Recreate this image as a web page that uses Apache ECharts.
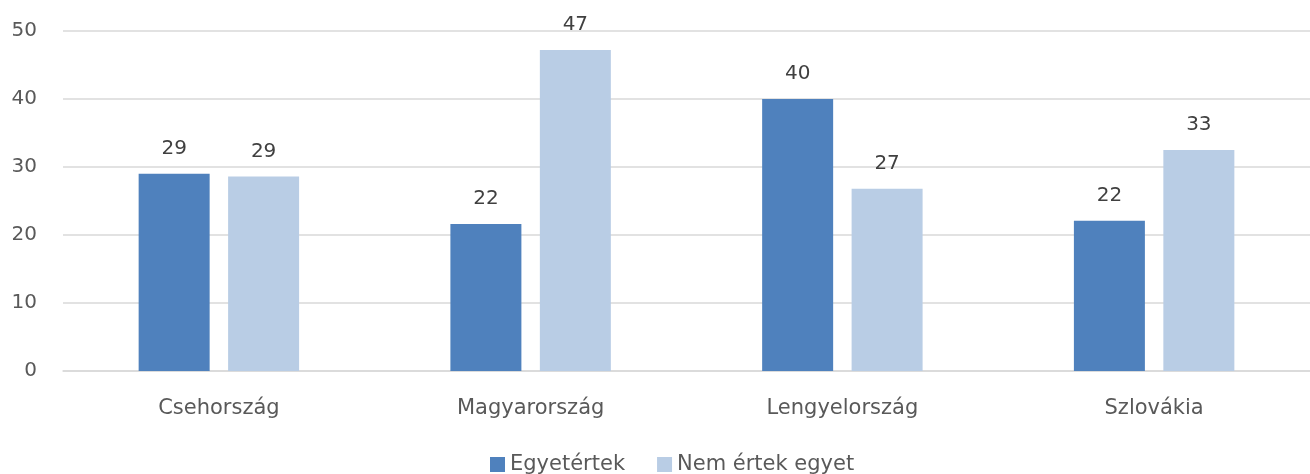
<!DOCTYPE html>
<html>
<head>
<meta charset="utf-8">
<script src="https://cdn.jsdelivr.net/npm/echarts@6/dist/echarts.min.js"></script>
<style>
  html, body { margin: 0; padding: 0; background: #fff; }
  #chart { width: 1310px; height: 474px; }
</style>
</head>
<body>
<div id="chart"></div>
<script>
// adatok
const categories = ["Csehország", "Magyarország", "Lengyelország", "Szlovákia"];
const agree = [29.0, 21.6, 40.0, 22.1];
const disagree = [28.6, 47.2, 26.8, 32.5];
const seriesNames = ["Egyetértek", "Nem értek egyet"];

const font = "'DejaVu Sans', sans-serif";

const myChart = echarts.init(document.getElementById("chart"));

const label = {
  show: true,
  position: "top",
  distance: 15,
  color: "#404040",
  fontSize: 20,
  fontFamily: font,
  formatter: (p) => Math.round(p.value),
};

myChart.setOption({
  animation: false,
  textStyle: { fontFamily: font },
  grid: { left: 63, right: -9, top: 31, bottom: 103 },
  legend: {
    top: 454,
    left: 490,
    padding: 0,
    itemWidth: 15,
    itemHeight: 15,
    itemGap: 32,
    icon: "rect",
    textStyle: { color: "#595959", fontSize: 21, fontFamily: font },
    data: seriesNames,
  },
  xAxis: {
    type: "category",
    data: categories,
    axisLine: { lineStyle: { color: "#d9d9d9", width: 1.5 } },
    axisTick: { show: false },
    axisLabel: { color: "#595959", fontSize: 21, fontFamily: font, margin: 27 },
  },
  yAxis: {
    type: "value",
    min: 0,
    max: 50,
    interval: 10,
    axisLine: { show: false },
    axisTick: { show: false },
    splitLine: { lineStyle: { color: "#d9d9d9", width: 1.5 } },
    axisLabel: { color: "#595959", fontSize: 20, fontFamily: font, margin: 26 },
  },
  series: [
    {
      name: seriesNames[0],
      type: "bar",
      data: agree,
      barWidth: 71,
      barGap: "26%",
      itemStyle: { color: "#4f81bd" },
      label,
    },
    {
      name: seriesNames[1],
      type: "bar",
      data: disagree,
      barWidth: 71,
      barGap: "26%",
      itemStyle: { color: "#b9cde5" },
      label,
    },
  ],
});
</script>
</body>
</html>
